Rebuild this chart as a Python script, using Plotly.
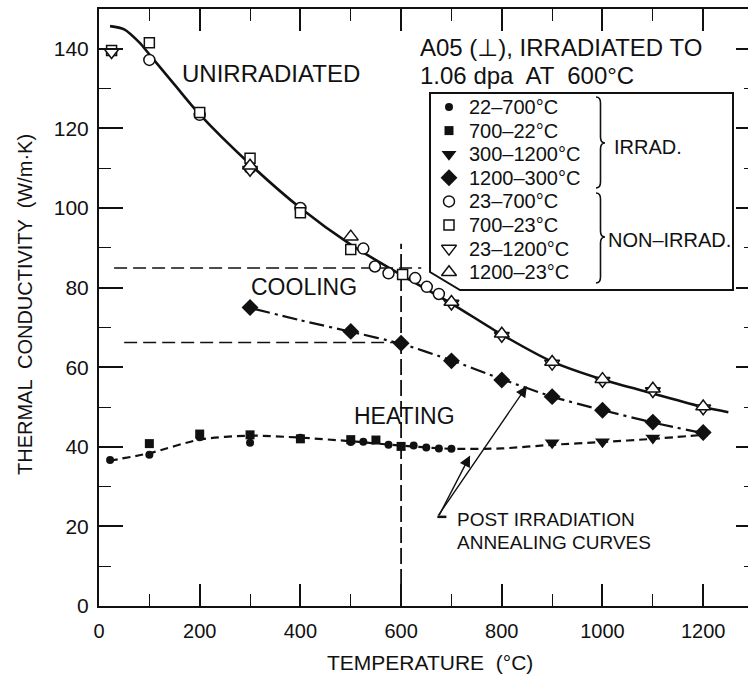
import plotly.graph_objects as go

# ---------------- data ----------------
# Irradiated specimen
irr_heat1_T = [22, 100, 200, 300, 400, 500, 525, 575, 600, 625, 650, 675, 700]          # 22-700 C (filled circle)
irr_heat1_k = [36.7, 38.0, 42.4, 41.0, 42.3, 41.2, 41.3, 40.5, 40.1, 40.3, 39.8, 39.6, 39.5]
irr_cool1_T = [100, 200, 300, 400, 500, 550, 600]                                        # 700-22 C (filled square)
irr_cool1_k = [40.8, 43.2, 43.0, 42.0, 41.8, 41.7, 40.1]
irr_heat2_T = [900, 1000, 1100, 1200]                                                    # 300-1200 C (filled tri-down)
irr_heat2_k = [41.0, 41.3, 42.2, 43.2]
irr_cool2_T = [300, 500, 600, 700, 800, 900, 1000, 1100, 1200]                           # 1200-300 C (filled diamond)
irr_cool2_k = [75.0, 69.0, 66.0, 61.6, 56.8, 52.6, 49.2, 46.2, 43.6]

# Non-irradiated specimen
non_heat1_T = [100, 200, 300, 400, 525, 548, 575, 628, 651, 675]                         # 23-700 C (open circle)
non_heat1_k = [137.2, 123.4, 110.0, 100.0, 89.8, 85.3, 83.6, 82.4, 80.2, 78.4]
non_cool1_T = [25, 100, 200, 300, 400, 500, 603]                                         # 700-23 C (open square)
non_cool1_k = [139.6, 141.5, 124.0, 112.5, 98.8, 89.6, 83.3]
non_heat2_T = [25, 300, 700, 800, 900, 1000, 1100, 1200]                                 # 23-1200 C (open tri-down)
non_heat2_k = [139.2, 109.6, 76.0, 67.9, 60.9, 56.6, 54.0, 49.7]
non_cool2_T = [300, 500, 700, 800, 900, 1000, 1100, 1200]                                # 1200-23 C (open tri-up)
non_cool2_k = [110.6, 92.8, 76.4, 68.4, 61.3, 57.0, 54.6, 50.1]

# Drawn curves
unirr_curve_T = [22, 50, 80, 100, 150, 200, 300, 400, 500, 600, 700, 800, 900, 1000, 1100, 1200, 1250]
unirr_curve_k = [145.7, 144.9, 141.6, 138.6, 131.0, 123.5, 111.0, 100.0, 90.8, 83.2, 76.0, 68.2, 61.4, 56.9, 53.4, 50.0, 48.7]
cooling_curve_T = [310, 400, 500, 600, 700, 800, 900, 1000, 1100, 1200]
cooling_curve_k = [74.6, 71.8, 68.9, 65.9, 61.7, 57.0, 52.6, 49.2, 46.1, 43.4]
heating_curve_T = [21, 100, 200, 300, 400, 500, 600, 700, 800, 900, 1000, 1100, 1200]
heating_curve_k = [36.5, 38.4, 41.8, 42.8, 42.3, 41.4, 40.3, 39.5, 39.6, 40.5, 41.2, 42.0, 43.0]

# Reference lines at 600 C
ref_T = 600
ref_upper_k = 84.9
ref_lower_k = 66.2
ref_upper_T = [30, 640]
ref_lower_T = [50, 600]
ref_vert_k = [0, 91]

x_ticks = [0, 200, 400, 600, 800, 1000, 1200]
y_ticks = [0, 20, 40, 60, 80, 100, 120, 140]

legend_labels = ["22–700°C", "700–22°C", "300–1200°C", "1200–300°C",
                 "23–700°C", "700–23°C", "23–1200°C", "1200–23°C"]

# ---------------- styling ----------------
FONT = "Liberation Sans, Arial, DejaVu Sans, sans-serif"
BLACK = "#111111"

styles = [
    dict(symbol="circle", size=8, color=BLACK, line=dict(color=BLACK, width=0)),
    dict(symbol="square", size=9, color=BLACK, line=dict(color=BLACK, width=0)),
    dict(symbol="triangle-down", size=13, color=BLACK, line=dict(color=BLACK, width=0)),
    dict(symbol="diamond", size=13, color=BLACK, line=dict(color=BLACK, width=0)),
    dict(symbol="circle", size=11, color="white", line=dict(color=BLACK, width=1.5)),
    dict(symbol="square", size=10, color="white", line=dict(color=BLACK, width=1.5)),
    dict(symbol="triangle-down", size=13, color="white", line=dict(color=BLACK, width=1.5)),
    dict(symbol="triangle-up", size=13, color="white", line=dict(color=BLACK, width=1.5)),
]
series = [
    (irr_heat1_T, irr_heat1_k), (irr_cool1_T, irr_cool1_k),
    (irr_heat2_T, irr_heat2_k), (irr_cool2_T, irr_cool2_k),
    (non_heat1_T, non_heat1_k), (non_cool1_T, non_cool1_k),
    (non_heat2_T, non_heat2_k), (non_cool2_T, non_cool2_k),
]

fig = go.Figure()

# curves
fig.add_trace(go.Scatter(x=unirr_curve_T, y=unirr_curve_k, mode="lines",
                         line=dict(color=BLACK, width=2.6, shape="spline", smoothing=0.8),
                         showlegend=False, hoverinfo="skip"))
fig.add_trace(go.Scatter(x=cooling_curve_T, y=cooling_curve_k, mode="lines",
                         line=dict(color=BLACK, width=2.2, shape="spline", smoothing=0.6,
                                   dash="15px,5px,3px,5px"),
                         showlegend=False, hoverinfo="skip"))
fig.add_trace(go.Scatter(x=heating_curve_T, y=heating_curve_k, mode="lines",
                         line=dict(color=BLACK, width=2.2, shape="spline", smoothing=0.8,
                                   dash="8px,5px"),
                         showlegend=False, hoverinfo="skip"))

# reference dashed lines
fig.add_trace(go.Scatter(x=ref_upper_T, y=[ref_upper_k, ref_upper_k], mode="lines",
                         line=dict(color=BLACK, width=1.5, dash="13px,6px"),
                         showlegend=False, hoverinfo="skip"))
fig.add_trace(go.Scatter(x=ref_lower_T, y=[ref_lower_k, ref_lower_k], mode="lines",
                         line=dict(color=BLACK, width=1.5, dash="13px,6px"),
                         showlegend=False, hoverinfo="skip"))
fig.add_trace(go.Scatter(x=[ref_T, ref_T], y=ref_vert_k, mode="lines",
                         line=dict(color=BLACK, width=1.8, dash="16px,5px"),
                         showlegend=False, hoverinfo="skip"))

# markers
for (tx, ky), st, lab in zip(series, styles, legend_labels):
    fig.add_trace(go.Scatter(x=tx, y=ky, mode="markers", name=lab,
                             marker=st, showlegend=False))

annotations = []

# ---------- custom legend on a pixel overlay axis (x3/y3) ----------
row0, drow = 107, 23.6
leg_mx, leg_tx = 449, 467
for i, (lab, st) in enumerate(zip(legend_labels, styles)):
    yy = row0 + i * drow
    fig.add_trace(go.Scatter(x=[leg_mx], y=[yy], mode="markers", marker=st,
                             xaxis="x3", yaxis="y3", showlegend=False, hoverinfo="skip"))
    annotations.append(dict(x=leg_tx, y=yy, xref="x3", yref="y3", text=lab, showarrow=False,
                            xanchor="left", yanchor="middle",
                            font=dict(family=FONT, size=20, color=BLACK)))

# dummy trace for right-side ticks
fig.add_trace(go.Scatter(x=[0], y=[0], mode="markers", marker=dict(opacity=0),
                         yaxis="y2", showlegend=False, hoverinfo="skip"))

def brace(x0, x1, y0, y1, ym, r=6):
    xm = (x0 + x1) / 2
    return (f"M {x0},{y0} Q {xm},{y0} {xm},{y0 + r} L {xm},{ym - r} "
            f"Q {xm},{ym} {x1},{ym} Q {xm},{ym} {xm},{ym + r} "
            f"L {xm},{y1 - r} Q {xm},{y1} {x0},{y1}")

shapes = [
    dict(type="path", xref="x3", yref="y3",
         path="M 430,93 L 733,93 L 733,290 L 460,290 L 430,272 Z",
         line=dict(color=BLACK, width=2)),
    dict(type="path", xref="x3", yref="y3", path=brace(596, 605, 97, 188, 143),
         line=dict(color=BLACK, width=1.6)),
    dict(type="path", xref="x3", yref="y3", path=brace(596, 605, 193, 283, 237),
         line=dict(color=BLACK, width=1.6)),
    # short horizontal at arrow origin
    dict(type="line", xref="x", yref="y", x0=672, x1=690, y0=22.4, y1=22.4,
         line=dict(color=BLACK, width=2.5)),
]

annotations += [
    dict(x=612, y=147, xref="x3", yref="y3", text="IRRAD.", showarrow=False,
         xanchor="left", font=dict(family=FONT, size=20, color=BLACK)),
    dict(x=606, y=240, xref="x3", yref="y3", text="NON–IRRAD.", showarrow=False,
         xanchor="left", font=dict(family=FONT, size=20, color=BLACK)),
    dict(x=633, y=140.3, xref="x", yref="y", text="A05 (⊥), IRRADIATED TO", showarrow=False,
         xanchor="left", font=dict(family=FONT, size=24, color=BLACK)),
    dict(x=633, y=133.3, xref="x", yref="y", text="1.06 dpa  AT  600°C", showarrow=False,
         xanchor="left", font=dict(family=FONT, size=24, color=BLACK)),
    dict(x=342, y=133.9, xref="x", yref="y", text="UNIRRADIATED", showarrow=False,
         font=dict(family=FONT, size=24, color=BLACK)),
    dict(x=407, y=80.2, xref="x", yref="y", text="COOLING", showarrow=False,
         font=dict(family=FONT, size=23, color=BLACK)),
    dict(x=606, y=47.7, xref="x", yref="y", text="HEATING", showarrow=False,
         font=dict(family=FONT, size=23, color=BLACK)),
    dict(x=707, y=21.7, xref="x", yref="y", text="POST IRRADIATION", showarrow=False,
         xanchor="left", font=dict(family=FONT, size=19, color=BLACK)),
    dict(x=707, y=16.0, xref="x", yref="y", text="ANNEALING CURVES", showarrow=False,
         xanchor="left", font=dict(family=FONT, size=19, color=BLACK)),
    # arrows
    dict(x=850, y=55.3, ax=672, ay=22.4, xref="x", yref="y", axref="x", ayref="y",
         text="", showarrow=True, arrowhead=2, arrowsize=1.6, arrowwidth=1.4, arrowcolor=BLACK),
    dict(x=737, y=37.8, ax=674, ay=22.4, xref="x", yref="y", axref="x", ayref="y",
         text="", showarrow=True, arrowhead=2, arrowsize=1.6, arrowwidth=1.4, arrowcolor=BLACK),
    # axis titles (paper coordinates)
    dict(x=(430 - 99) / 649, y=(606 - 662) / 597, xref="paper", yref="paper",
         xanchor="center", yanchor="middle",
         text="TEMPERATURE  (°C)", showarrow=False,
         font=dict(family=FONT, size=21, color=BLACK)),
    dict(x=(25 - 99) / 649, y=(606 - 305) / 597, xref="paper", yref="paper",
         xanchor="center", yanchor="middle",
         text="THERMAL  CONDUCTIVITY  (W/m·K)", showarrow=False,
         textangle=-90, font=dict(family=FONT, size=20, color=BLACK)),
]

fig.update_layout(
    width=748, height=679,
    margin=dict(l=99, r=0, t=9, b=73, autoexpand=False),
    paper_bgcolor="white", plot_bgcolor="white",
    showlegend=False,
    shapes=shapes, annotations=annotations,
    xaxis=dict(range=[0, 1289], tickvals=x_ticks, ticktext=[str(v) for v in x_ticks],
               ticks="inside", ticklen=22, tickwidth=1.5, tickcolor=BLACK,
               minor=dict(dtick=100, tick0=0, ticks="inside", ticklen=12, tickwidth=1.3, tickcolor=BLACK),
               showline=True, linecolor=BLACK, linewidth=2, mirror="ticks",
               showgrid=False, zeroline=False, automargin=False,
               tickfont=dict(family=FONT, size=20, color=BLACK), ticklabelstandoff=6),
    yaxis=dict(range=[0, 150], tickvals=y_ticks, ticktext=[str(v) for v in y_ticks],
               ticks="inside", ticklen=24, tickwidth=1.5, tickcolor=BLACK,
               minor=dict(dtick=10, tick0=0, ticks="inside", ticklen=12, tickwidth=1.3, tickcolor=BLACK),
               showline=True, linecolor=BLACK, linewidth=2, mirror=False,
               showgrid=False, zeroline=False, automargin=False,
               tickfont=dict(family=FONT, size=21, color=BLACK), ticklabelstandoff=4),
    yaxis2=dict(range=[0, 150], overlaying="y", side="right", tickvals=y_ticks,
                showticklabels=False, ticks="inside", ticklen=12, tickwidth=1.5, tickcolor=BLACK,
                minor=dict(dtick=10, tick0=0, ticks="inside", ticklen=4, tickwidth=1.3, tickcolor=BLACK),
                showline=False, showgrid=False, zeroline=False, automargin=False),
    xaxis3=dict(range=[99, 748], overlaying="x", visible=False, fixedrange=True),
    yaxis3=dict(range=[606, 9], overlaying="y", visible=False, fixedrange=True),
)

fig.write_html("out.html", config={"displayModeBar": False},
               post_script="document.body.style.margin='0';document.body.style.overflow='hidden';")
